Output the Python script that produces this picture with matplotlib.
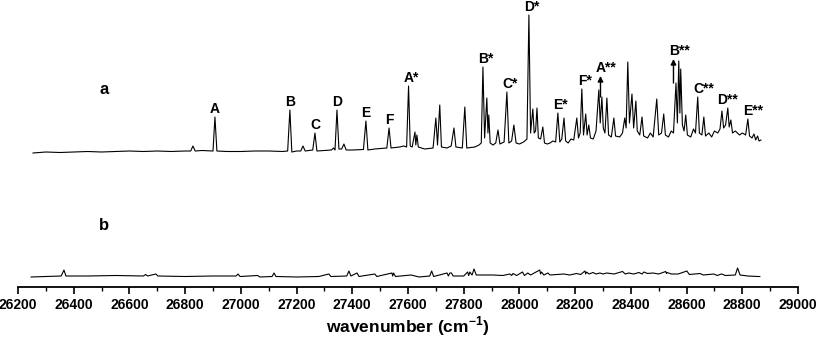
import numpy as np
import matplotlib
matplotlib.use("Agg")
import matplotlib.pyplot as plt

plt.rcParams['font.family'] = ['Liberation Sans', 'DejaVu Sans']
plt.rcParams['font.weight'] = 'bold'
plt.rcParams['mathtext.fontset'] = 'custom'
plt.rcParams['mathtext.rm'] = 'Liberation Sans:bold'
plt.rcParams['mathtext.bf'] = 'Liberation Sans:bold'

# trace a: (wavenumber, intensity) vertices
trace_a = [
    (26254, 0), (26300, 1), (26350, 0.5), (26400, 1), (26450, 1.5), (26500, 1),
    (26550, 1.5), (26600, 2), (26650, 1.5), (26700, 2), (26750, 1.5), (26800, 2),
    (26820, 2), (26828, 7), (26836, 2), (26860, 2.5), (26900, 2), (26907, 36),
    (26914, 2), (26950, 1.5), (27000, 1.5), (27050, 2), (27100, 2), (27150, 1.5),
    (27168, 2), (27176, 43), (27183, 1), (27200, 2), (27215, 2), (27223, 7),
    (27231, 2), (27258, 3), (27266, 20), (27273, 2), (27300, 2.5), (27325, 3),
    (27333, 5), (27338, 3), (27345, 43), (27352, 4), (27362, 4), (27370, 9),
    (27378, 3), (27400, 3), (27440, 3.5), (27449, 32), (27456, 3), (27480, 4),
    (27500, 4.5), (27524, 5), (27532, 25), (27539, 5), (27570, 6), (27585, 7),
    (27595, 6), (27602, 67), (27608, 7), (27615, 6), (27625, 21), (27628, 8),
    (27632, 18), (27637, 6), (27660, 4), (27690, 5), (27700, 35), (27706, 8),
    (27714, 48), (27720, 6), (27740, 5), (27755, 7), (27765, 25), (27772, 6),
    (27795, 5), (27804, 46), (27811, 5), (27840, 6), (27855, 8), (27863, 10),
    (27869, 86), (27875, 15), (27883, 55), (27887, 20), (27890, 38), (27895, 10),
    (27905, 8), (27915, 10), (27923, 23), (27930, 9), (27945, 11), (27955, 61),
    (27962, 10), (27972, 12), (27980, 28), (27988, 10), (28000, 9), (28015, 11),
    (28027, 14), (28034, 138), (28040, 20), (28048, 44), (28053, 20), (28058, 22),
    (28063, 45), (28068, 15), (28076, 14), (28084, 26), (28090, 10), (28100, 9),
    (28110, 10), (28120, 12), (28130, 11), (28138, 40), (28145, 11), (28152, 14),
    (28160, 35), (28166, 12), (28175, 10), (28185, 14), (28195, 13), (28206, 35),
    (28212, 15), (28218, 20), (28224, 64), (28230, 18), (28238, 39), (28243, 18),
    (28249, 28), (28255, 15), (28265, 14), (28275, 22), (28285, 63), (28290, 30),
    (28296, 56), (28301, 25), (28307, 20), (28314, 55), (28320, 18), (28330, 16),
    (28339, 35), (28345, 17), (28360, 16), (28370, 20), (28378, 35), (28383, 25),
    (28389, 91), (28395, 30), (28404, 59), (28410, 25), (28418, 52), (28423, 22),
    (28432, 18), (28440, 36), (28446, 17), (28460, 15), (28470, 20), (28480, 16),
    (28493, 54), (28500, 18), (28510, 20), (28518, 39), (28524, 18), (28535, 16),
    (28545, 22), (28553, 20), (28562, 70), (28567, 30), (28572, 92), (28576, 40),
    (28579, 84), (28585, 28), (28591, 22), (28597, 38), (28603, 18), (28615, 16),
    (28625, 24), (28632, 20), (28640, 56), (28646, 20), (28655, 18), (28662, 36),
    (28668, 17), (28680, 20), (28690, 16), (28700, 22), (28712, 20), (28720, 24),
    (28727, 42), (28733, 25), (28740, 28), (28748, 45), (28753, 26), (28759, 33),
    (28765, 20), (28775, 22), (28790, 18), (28800, 20), (28812, 18), (28820, 34),
    (28826, 17), (28835, 15), (28842, 19), (28848, 13), (28855, 17), (28860, 12),
    (28867, 13),
]

# trace b: (wavenumber, intensity) vertices
trace_b = [
    (26247, 0), (26300, 0.5), (26355, 1), (26365, 7), (26372, 1), (26450, 1),
    (26550, 1.5), (26650, 1), (26658, 2.5), (26665, 1), (26695, 3), (26702, 1),
    (26800, 0.5), (26900, 1), (26983, 1), (26990, 3), (26997, 0.5), (27061, 1.5),
    (27068, 0), (27112, 0.5), (27119, 4), (27126, 0.5), (27200, 0), (27280, 0.5),
    (27316, 3), (27323, 0.5), (27380, 1), (27388, 6), (27395, 1), (27417, 4),
    (27424, 0.5), (27481, 3), (27488, 0.5), (27542, 4), (27545, 1), (27548, 4),
    (27555, 0.5), (27611, 2), (27640, 0), (27678, 1), (27685, 6), (27692, 0.5),
    (27740, 4), (27745, 1), (27750, 4), (27756, 4), (27762, 1), (27800, 1),
    (27814, 5), (27818, 1.5), (27822, 5), (27830, 2), (27837, 8), (27845, 2),
    (27905, 2), (27940, 1.5), (27966, 3), (27972, 1.5), (27977, 3.5), (27990, 1.5),
    (28011, 5), (28018, 1.5), (28030, 4), (28040, 2), (28073, 7), (28076, 3),
    (28079, 5), (28088, 2), (28102, 4), (28110, 2), (28160, 3), (28180, 2),
    (28205, 3.5), (28220, 2.5), (28235, 6), (28238, 3), (28241, 5), (28250, 3),
    (28264, 4.5), (28275, 3), (28289, 4), (28300, 3), (28313, 4), (28340, 3),
    (28370, 5.5), (28380, 3), (28393, 4), (28410, 3), (28429, 4.5), (28440, 3),
    (28447, 5), (28460, 3.5), (28479, 4), (28500, 3), (28525, 5.5), (28528, 3.5),
    (28530, 4.5), (28545, 3), (28570, 3), (28601, 6), (28610, 2.5), (28648, 3.5),
    (28660, 2), (28698, 3), (28710, 1.5), (28725, 3), (28740, 1.5), (28775, 2),
    (28783, 9), (28792, 2), (28820, 1), (28856, 0.5), (28863, 0.5),
]

peak_labels = ['A', 'B', 'C', 'D', 'E', 'F', 'A*', 'B*', 'C*', 'D*', 'E*', 'F*',
               'A**', 'B**', 'C**', 'D**', 'E**']
label_wn = [26907, 27176, 27266, 27345, 27449, 27532, 27602, 27869, 27955, 28034,
            28138, 28224, 28291, 28553, 28640, 28727, 28820]
label_top = [36, 43, 20, 43, 32, 25, 67, 86, 61, 138, 40, 64, 77, 94, 56, 45, 34]

# arrows marking overlapped bands: (wavenumber, from, to)
arrow_wn = [28291, 28553]
arrow_from = [56, 70]
arrow_to = [77, 94]

offset_a = 134
offset_b = 10

wn_a, int_a = np.array(trace_a).T
wn_b, int_b = np.array(trace_b).T

fig = plt.figure(figsize=(8.17, 3.38), dpi=100)
ax = fig.add_axes([18 / 817, 51 / 338, 780 / 817, 287 / 338])

ax.plot(wn_a, int_a + offset_a, color='black', lw=0.8)
ax.plot(wn_b, int_b + offset_b, color='black', lw=0.8)

for lab, w, top in zip(peak_labels, label_wn, label_top):
    nstar = lab.count('*')
    ax.annotate(lab, xy=(w, top + offset_a), xytext=(nstar * 2, 3),
                textcoords='offset points', ha='center', va='baseline',
                fontsize=10, fontweight='bold')

for w, y0, y1 in zip(arrow_wn, arrow_from, arrow_to):
    ax.annotate('', xy=(w, y1 + offset_a), xytext=(w, y0 + offset_a),
                arrowprops=dict(arrowstyle='-|>', color='black', lw=1,
                                mutation_scale=8, shrinkA=0, shrinkB=0))

ax.text(26510, 197, 'a', fontsize=12, fontweight='bold', ha='center', va='center')
ax.text(26510, 62, 'b', fontsize=12, fontweight='bold', ha='center', va='center')

ax.set_xlim(26200, 29000)
ax.set_ylim(0, 287)
ax.set_xticks(np.arange(26200, 29001, 200))
ax.set_xticks(np.arange(26300, 29000, 200), minor=True)
ax.set_yticks([])
for side in ['left', 'right', 'top']:
    ax.spines[side].set_visible(False)
ax.spines['bottom'].set_linewidth(1.3)
ax.tick_params(axis='x', which='major', direction='out', length=5, width=1.2,
               labelsize=10, pad=3)
ax.tick_params(axis='x', which='minor', direction='out', length=3, width=1)
for t in ax.get_xticklabels():
    t.set_fontweight('bold')
ax.set_xlabel(r'wavenumber (cm$^{\mathbf{-1}}$)', fontsize=12.5, fontweight='bold',
              labelpad=1.5)

fig.savefig('out.png', dpi=100)
